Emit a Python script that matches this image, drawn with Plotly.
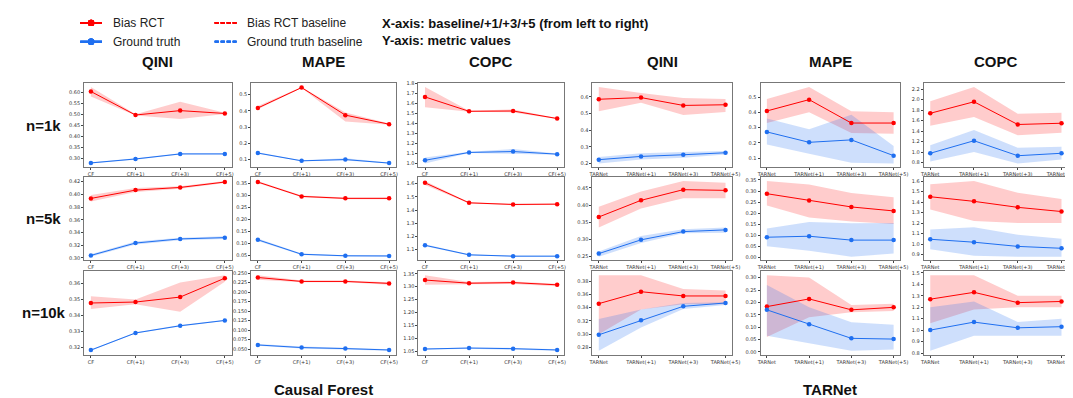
import plotly.graph_objects as go
from plotly.subplots import make_subplots

# ---------------- data ----------------
CF_TICKS = ["CF", "CF(+1)", "CF(+3)", "CF(+5)"]
TN_TICKS = ["TARNet", "TARNet(+1)", "TARNet(+3)", "TARNet(+5)"]
METRICS = ["QINI", "MAPE", "COPC"]
SIZES = ["n=1k", "n=5k", "n=10k"]
METHODS = ["Causal Forest", "TARNet"]

# Causal Forest - QINI (rows: n=1k, 5k, 10k)
CF_QINI_BIAS = [[0.603, 0.496, 0.516, 0.503], [0.3937, 0.4068, 0.411, 0.4195], [0.3478, 0.3484, 0.3515, 0.3633]]
CF_QINI_BIAS_LO = [[0.580, 0.494, 0.478, 0.501], [0.389, 0.404, 0.409, 0.418], [0.344, 0.347, 0.3423, 0.361]]
CF_QINI_BIAS_HI = [[0.623, 0.499, 0.556, 0.506], [0.399, 0.410, 0.413, 0.421], [0.352, 0.350, 0.3606, 0.3652]]
CF_QINI_GT = [[0.278, 0.296, 0.319, 0.319], [0.304, 0.3235, 0.330, 0.332], [0.3184, 0.3291, 0.3336, 0.3369]]
CF_QINI_GT_LO = [[0.275, 0.293, 0.316, 0.316], [0.302, 0.321, 0.328, 0.330], [0.318, 0.3287, 0.3332, 0.3365]]
CF_QINI_GT_HI = [[0.281, 0.299, 0.322, 0.322], [0.306, 0.326, 0.332, 0.334], [0.3188, 0.3295, 0.334, 0.3373]]
CF_QINI_BASE_BIAS = [0.603, 0.394, 0.3478]
CF_QINI_BASE_GT = [0.278, 0.304, 0.3184]

# Causal Forest - MAPE
CF_MAPE_BIAS = [[0.418, 0.544, 0.374, 0.318], [0.354, 0.2946, 0.2865, 0.2865], [0.2388, 0.2284, 0.2284, 0.2233]]
CF_MAPE_BIAS_LO = [[0.410, 0.541, 0.334, 0.314], [0.350, 0.291, 0.283, 0.283], [0.233, 0.226, 0.226, 0.220]]
CF_MAPE_BIAS_HI = [[0.430, 0.547, 0.390, 0.322], [0.358, 0.298, 0.290, 0.290], [0.245, 0.231, 0.231, 0.226]]
CF_MAPE_GT = [[0.140, 0.092, 0.100, 0.078], [0.115, 0.055, 0.0487, 0.048], [0.0612, 0.0543, 0.0517, 0.048]]
CF_MAPE_GT_LO = [[0.136, 0.089, 0.094, 0.075], [0.110, 0.052, 0.046, 0.045], [0.059, 0.052, 0.049, 0.046]]
CF_MAPE_GT_HI = [[0.145, 0.095, 0.108, 0.081], [0.120, 0.058, 0.051, 0.051], [0.064, 0.057, 0.054, 0.050]]
CF_MAPE_BASE_BIAS = [0.422, 0.354, 0.2388]
CF_MAPE_BASE_GT = [0.140, 0.115, 0.0612]

# Causal Forest - COPC
CF_COPC_BIAS = [[1.664, 1.521, 1.524, 1.449], [1.607, 1.455, 1.4425, 1.445], [1.326, 1.3137, 1.316, 1.3075]]
CF_COPC_BIAS_LO = [[1.56, 1.516, 1.51, 1.445], [1.59, 1.45, 1.437, 1.44], [1.308, 1.31, 1.311, 1.302]]
CF_COPC_BIAS_HI = [[1.762, 1.526, 1.54, 1.453], [1.62, 1.46, 1.448, 1.45], [1.345, 1.318, 1.32, 1.312]]
CF_COPC_GT = [[1.033, 1.111, 1.12, 1.094], [1.1325, 1.06, 1.05, 1.05], [1.0587, 1.0624, 1.06, 1.055]]
CF_COPC_GT_LO = [[1.0, 1.105, 1.10, 1.088], [1.125, 1.055, 1.046, 1.046], [1.056, 1.06, 1.057, 1.052]]
CF_COPC_GT_HI = [[1.06, 1.117, 1.145, 1.10], [1.14, 1.065, 1.054, 1.054], [1.061, 1.065, 1.063, 1.058]]
CF_COPC_BASE_BIAS = [1.664, 1.607, 1.3264]
CF_COPC_BASE_GT = [1.036, 1.1325, 1.06]

# TARNet - QINI
TN_QINI_BIAS = [[0.586, 0.596, 0.549, 0.553], [0.3655, 0.414, 0.445, 0.443], [0.346, 0.364, 0.3576, 0.3576]]
TN_QINI_BIAS_LO = [[0.514, 0.565, 0.492, 0.51], [0.335, 0.39, 0.42, 0.42], [0.30, 0.337, 0.345, 0.345]]
TN_QINI_BIAS_HI = [[0.659, 0.624, 0.594, 0.588], [0.395, 0.44, 0.47, 0.465], [0.389, 0.389, 0.368, 0.366]]
TN_QINI_GT = [[0.2235, 0.243, 0.253, 0.265], [0.259, 0.299, 0.323, 0.328], [0.299, 0.321, 0.342, 0.347]]
TN_QINI_GT_LO = [[0.20, 0.225, 0.235, 0.255], [0.25, 0.29, 0.318, 0.32], [0.275, 0.31, 0.338, 0.344]]
TN_QINI_GT_HI = [[0.24, 0.262, 0.27, 0.275], [0.265, 0.31, 0.33, 0.335], [0.323, 0.337, 0.347, 0.348]]
TN_QINI_BASE_BIAS = [0.586, 0.3655, 0.346]
TN_QINI_BASE_GT = [0.2235, 0.259, 0.299]

# TARNet - MAPE
TN_MAPE_BIAS = [[0.409, 0.483, 0.33, 0.33], [0.288, 0.257, 0.228, 0.21], [0.183, 0.214, 0.17, 0.18]]
TN_MAPE_BIAS_LO = [[0.33, 0.40, 0.265, 0.26], [0.235, 0.18, 0.162, 0.151], [0.06, 0.14, 0.16, 0.165]]
TN_MAPE_BIAS_HI = [[0.487, 0.565, 0.407, 0.40], [0.345, 0.33, 0.291, 0.272], [0.31, 0.30, 0.19, 0.195]]
TN_MAPE_GT = [[0.272, 0.204, 0.22, 0.117], [0.091, 0.0956, 0.078, 0.078], [0.17, 0.112, 0.055, 0.052]]
TN_MAPE_GT_LO = [[0.189, 0.13, 0.07, 0.065], [0.05, 0.03, 0.003, 0.017], [0.065, 0.035, 0.005, 0.01]]
TN_MAPE_GT_HI = [[0.36, 0.29, 0.385, 0.18], [0.13, 0.16, 0.154, 0.155], [0.27, 0.18, 0.12, 0.11]]
TN_MAPE_BASE_BIAS = [0.409, 0.29, 0.185]
TN_MAPE_BASE_GT = [0.272, 0.091, 0.17]

# TARNet - COPC
TN_COPC_BIAS = [[1.74, 1.96, 1.526, 1.55], [1.451, 1.407, 1.35, 1.31], [1.27, 1.33, 1.24, 1.25]]
TN_COPC_BIAS_LO = [[1.50, 1.67, 1.32, 1.37], [1.33, 1.22, 1.20, 1.20], [1.06, 1.18, 1.20, 1.20]]
TN_COPC_BIAS_HI = [[1.97, 2.24, 1.73, 1.75], [1.57, 1.60, 1.49, 1.43], [1.48, 1.48, 1.30, 1.30]]
TN_COPC_GT = [[0.977, 1.216, 0.93, 0.977], [1.046, 1.018, 0.978, 0.96], [1.0, 1.07, 1.02, 1.03]]
TN_COPC_GT_LO = [[0.82, 1.0, 0.78, 0.86], [0.95, 0.89, 0.88, 0.88], [0.82, 0.95, 0.95, 0.95]]
TN_COPC_GT_HI = [[1.13, 1.42, 1.08, 1.10], [1.14, 1.16, 1.09, 1.05], [1.2, 1.25, 1.07, 1.10]]
TN_COPC_BASE_BIAS = [1.74, 1.451, 1.27]
TN_COPC_BASE_GT = [0.977, 1.046, 1.0]

# ---------------- assemble ----------------
PANELS = [
    (CF_TICKS, CF_QINI_BIAS, CF_QINI_BIAS_LO, CF_QINI_BIAS_HI, CF_QINI_GT, CF_QINI_GT_LO, CF_QINI_GT_HI, CF_QINI_BASE_BIAS, CF_QINI_BASE_GT),
    (CF_TICKS, CF_MAPE_BIAS, CF_MAPE_BIAS_LO, CF_MAPE_BIAS_HI, CF_MAPE_GT, CF_MAPE_GT_LO, CF_MAPE_GT_HI, CF_MAPE_BASE_BIAS, CF_MAPE_BASE_GT),
    (CF_TICKS, CF_COPC_BIAS, CF_COPC_BIAS_LO, CF_COPC_BIAS_HI, CF_COPC_GT, CF_COPC_GT_LO, CF_COPC_GT_HI, CF_COPC_BASE_BIAS, CF_COPC_BASE_GT),
    (TN_TICKS, TN_QINI_BIAS, TN_QINI_BIAS_LO, TN_QINI_BIAS_HI, TN_QINI_GT, TN_QINI_GT_LO, TN_QINI_GT_HI, TN_QINI_BASE_BIAS, TN_QINI_BASE_GT),
    (TN_TICKS, TN_MAPE_BIAS, TN_MAPE_BIAS_LO, TN_MAPE_BIAS_HI, TN_MAPE_GT, TN_MAPE_GT_LO, TN_MAPE_GT_HI, TN_MAPE_BASE_BIAS, TN_MAPE_BASE_GT),
    (TN_TICKS, TN_COPC_BIAS, TN_COPC_BIAS_LO, TN_COPC_BIAS_HI, TN_COPC_GT, TN_COPC_GT_LO, TN_COPC_GT_HI, TN_COPC_BASE_BIAS, TN_COPC_BASE_GT),
]

# style: y tick step / format per (column, row)
DTICK = [[0.05, 0.02, 0.01], [0.1, 0.05, 0.025], [0.1, 0.1, 0.05],
         [0.1, 0.05, 0.02], [0.1, 0.05, 0.05], [0.2, 0.1, 0.1]]
TFMT = [[".2f", ".2f", ".2f"], [".1f", ".2f", ".3f"], [".1f", ".1f", ".2f"],
        [".1f", ".2f", ".2f"], [".1f", ".2f", ".2f"], [".1f", ".1f", ".1f"]]

W, H = 1073, 398
PX = [(73, 222), (242, 388), (411, 558), (587, 728), (757, 898), (922, 1068)]
PY = [(73, 158), (168, 252), (263, 347)]

RED = "#ff0000"
BLUE = "#1f6ff0"
RED_BAND = "rgba(255,0,0,0.2)"
BLUE_BAND = "rgba(31,111,240,0.22)"
TICK_FONT = dict(family="DejaVu Sans", size=5, color="#333")

fig = make_subplots(rows=3, cols=6)

for c, (ticks, b, blo, bhi, g, glo, ghi, bb, gb) in enumerate(PANELS):
    for r in range(3):
        xs = list(range(len(ticks)))
        xs_poly = xs + xs[::-1]
        # bands
        fig.add_trace(go.Scatter(x=xs_poly, y=bhi[r] + blo[r][::-1], fill="toself", fillcolor=RED_BAND,
                                 line=dict(width=0), mode="lines", hoverinfo="skip", showlegend=False),
                      row=r + 1, col=c + 1)
        fig.add_trace(go.Scatter(x=xs_poly, y=ghi[r] + glo[r][::-1], fill="toself", fillcolor=BLUE_BAND,
                                 line=dict(width=0), mode="lines", hoverinfo="skip", showlegend=False),
                      row=r + 1, col=c + 1)
        # baselines
        fig.add_hline(y=bb[r], line=dict(color=RED, width=1, dash="4px,2px"), row=r + 1, col=c + 1)
        fig.add_hline(y=gb[r], line=dict(color=BLUE, width=1, dash="4px,2px"), row=r + 1, col=c + 1)
        # lines
        fig.add_trace(go.Scatter(x=xs, y=b[r], mode="lines+markers", line=dict(color=RED, width=1),
                                 marker=dict(size=4.5, color=RED), showlegend=False),
                      row=r + 1, col=c + 1)
        fig.add_trace(go.Scatter(x=xs, y=g[r], mode="lines+markers", line=dict(color=BLUE, width=1),
                                 marker=dict(size=4.5, color=BLUE), showlegend=False),
                      row=r + 1, col=c + 1)

        allv = bhi[r] + blo[r] + ghi[r] + glo[r] + b[r] + g[r] + [bb[r], gb[r]]
        lo, hi = min(allv), max(allv)
        pad = 0.05 * (hi - lo)
        idx = r * 6 + c + 1
        sx = "xaxis" if idx == 1 else f"xaxis{idx}"
        sy = "yaxis" if idx == 1 else f"yaxis{idx}"
        fig.layout[sx].update(domain=[PX[c][0] / W, PX[c][1] / W], range=[-0.15, len(ticks) - 1 + 0.15],
                              tickvals=xs, ticktext=ticks, tickfont=TICK_FONT, ticks="outside", ticklen=2,
                              tickwidth=0.6, tickcolor="#444", showgrid=False, zeroline=False,
                              showline=True, mirror=True, linecolor="#777", linewidth=1)
        fig.layout[sy].update(domain=[1 - PY[r][1] / H, 1 - PY[r][0] / H], range=[lo - pad, hi + pad],
                              dtick=DTICK[c][r], tickformat=TFMT[c][r], tickfont=TICK_FONT, ticks="outside",
                              ticklen=2, tickwidth=0.6, tickcolor="#444", showgrid=False, zeroline=False,
                              showline=True, mirror=True, linecolor="#777", linewidth=1)

# ---------------- texts ----------------
ann = []
TITLE_FONT = dict(family="Liberation Sans", size=15, color="#111")
for c in range(6):
    xc = (PX[c][0] + PX[c][1]) / 2 / W
    ann.append(dict(x=xc, y=1 - 51 / H, xref="paper", yref="paper", text=f"<b>{METRICS[c % 3]}</b>",
                    showarrow=False, font=TITLE_FONT, xanchor="center", yanchor="middle"))
for r in range(3):
    yc = 1 - (PY[r][0] + PY[r][1]) / 2 / H
    ann.append(dict(x=32 / W, y=yc, xref="paper", yref="paper", text=f"<b>{SIZES[r]}</b>",
                    showarrow=False, font=TITLE_FONT, xanchor="center", yanchor="middle"))
for m in range(2):
    xc = (PX[m * 3][0] + PX[m * 3 + 2][1]) / 2 / W
    ann.append(dict(x=xc, y=1 - 382 / H, xref="paper", yref="paper", text=f"<b>{METHODS[m]}</b>",
                    showarrow=False, font=TITLE_FONT, xanchor="center", yanchor="middle"))

LEG_FONT = dict(family="Liberation Sans", size=12, color="#222")
AX_FONT = dict(family="Liberation Sans", size=13, color="#111")
legend_items = [("Bias RCT", RED, "solid", 69, 12), ("Ground truth", BLUE, "solid", 69, 31),
                ("Bias RCT baseline", RED, "dash", 205, 12), ("Ground truth baseline", BLUE, "dash", 205, 31)]
shapes = []
for label, col, dash, x0, yy in legend_items:
    shapes.append(dict(type="line", xref="paper", yref="paper", x0=x0 / W, x1=(x0 + 22) / W,
                       y0=1 - yy / H, y1=1 - yy / H, line=dict(color=col, width=1.8,
                                                               dash="4px,2px" if dash == "dash" else "solid")))
    if dash == "solid":
        cx, cy = x0 + 11, yy
        shapes.append(dict(type="circle", xref="paper", yref="paper", x0=(cx - 3.2) / W, x1=(cx + 3.2) / W,
                           y0=1 - (cy + 3.2) / H, y1=1 - (cy - 3.2) / H, fillcolor=col, line=dict(width=0)))
    ann.append(dict(x=(x0 + 31) / W, y=1 - yy / H, xref="paper", yref="paper", text=label, showarrow=False,
                    font=LEG_FONT, xanchor="left", yanchor="middle"))

ann.append(dict(x=372 / W, y=1 - 13 / H, xref="paper", yref="paper",
                text="<b>X-axis: baseline/+1/+3/+5 (from left to right)</b>", showarrow=False,
                font=AX_FONT, xanchor="left", yanchor="middle"))
ann.append(dict(x=372 / W, y=1 - 30 / H, xref="paper", yref="paper", text="<b>Y-axis: metric values</b>",
                showarrow=False, font=AX_FONT, xanchor="left", yanchor="middle"))

fig.update_layout(width=W, height=H, margin=dict(l=0, r=0, t=0, b=0), paper_bgcolor="white",
                  plot_bgcolor="white", showlegend=False, annotations=ann, shapes=shapes)

fig.write_html("out.html")
